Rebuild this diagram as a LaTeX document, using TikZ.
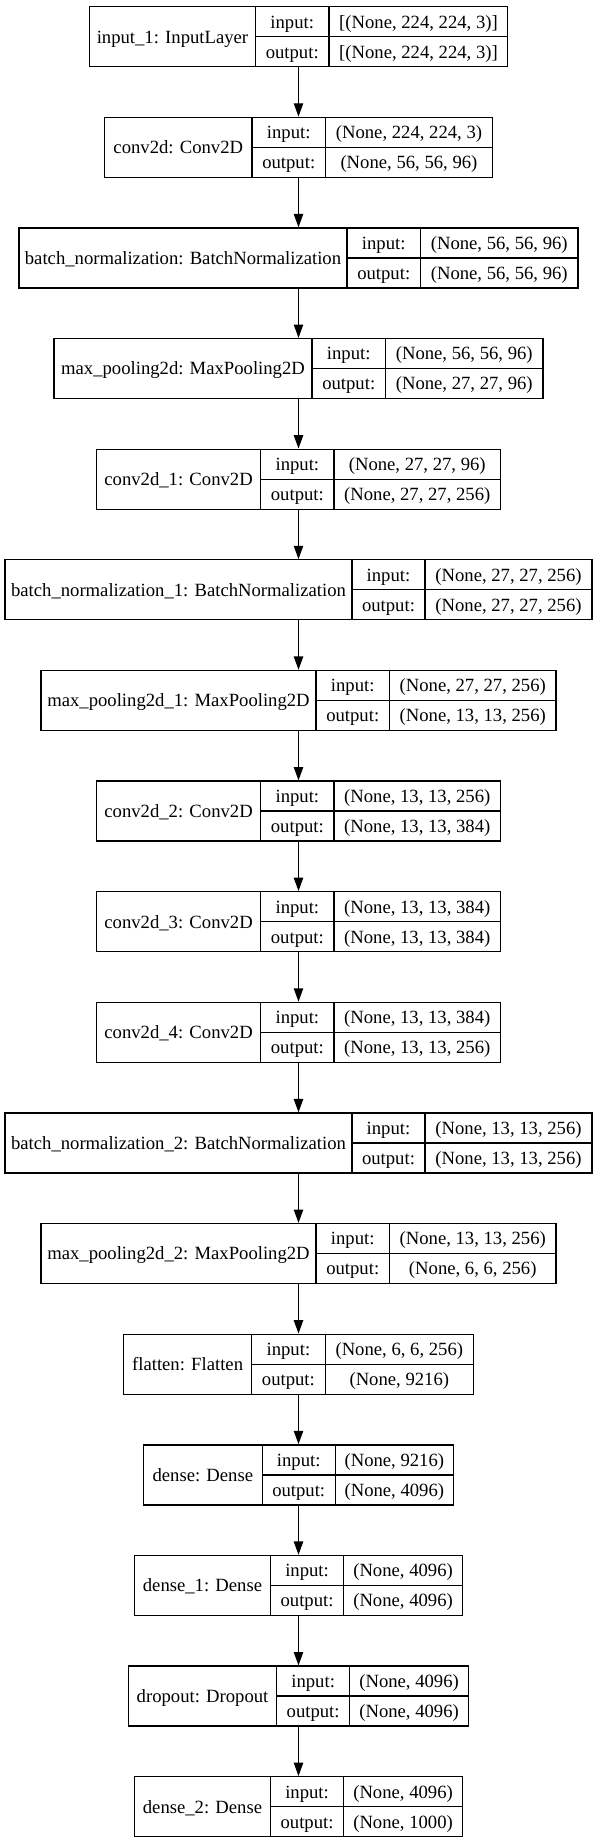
\documentclass[tikz,border=0pt]{standalone}
\usepackage{fontspec}
\setmainfont{Liberation Serif}
\usetikzlibrary{arrows.meta}

\tikzset{
  layer/.style={draw, rectangle, inner sep=0pt, line width=1pt, minimum height=45pt},
  cellline/.style={line width=1pt},
  txt/.style={inner sep=0pt, text height=11.5pt, text depth=2pt},
  flow/.style={-{Triangle[length=10pt, width=7pt]}, line width=1pt}
}

\begin{document}
\begin{tikzpicture}[x=0.75pt, y=-0.75pt, font=\fontsize{14pt}{16pt}\selectfont]
    \useasboundingbox (0,0) rectangle (597,1844);
    % one row per layer: index/name/left/divider 1/divider 2/right/input/output
    \foreach \n/\nm/\xl/\xa/\xb/\xr/\shin/\shout in {
        0/{input\_1: InputLayer}/89.4/255.5/329/508/{[(None, 224, 224, 3)]}/{[(None, 224, 224, 3)]},
        1/{conv2d: Conv2D}/104.6/252/325.5/492.4/{(None, 224, 224, 3)}/{(None, 56, 56, 96)},
        2/{batch\_normalization: BatchNormalization}/19/347/420.5/578/{(None, 56, 56, 96)}/{(None, 56, 56, 96)},
        3/{max\_pooling2d: MaxPooling2D}/54/312/385.5/543/{(None, 56, 56, 96)}/{(None, 27, 27, 96)},
        4/{conv2d\_1: Conv2D}/96.5/260.7/334/500.5/{(None, 27, 27, 96)}/{(None, 27, 27, 256)},
        5/{batch\_normalization\_1: BatchNormalization}/5/352/425/592/{(None, 27, 27, 256)}/{(None, 27, 27, 256)},
        6/{max\_pooling2d\_1: MaxPooling2D}/41/316/389.5/556/{(None, 27, 27, 256)}/{(None, 13, 13, 256)},
        7/{conv2d\_2: Conv2D}/96.5/260.7/334/500.5/{(None, 13, 13, 256)}/{(None, 13, 13, 384)},
        8/{conv2d\_3: Conv2D}/96.5/260.7/334/500.5/{(None, 13, 13, 384)}/{(None, 13, 13, 384)},
        9/{conv2d\_4: Conv2D}/96.5/260.7/334/500.5/{(None, 13, 13, 384)}/{(None, 13, 13, 256)},
        10/{batch\_normalization\_2: BatchNormalization}/5/352/425/592/{(None, 13, 13, 256)}/{(None, 13, 13, 256)},
        11/{max\_pooling2d\_2: MaxPooling2D}/41/316/389.5/556/{(None, 13, 13, 256)}/{(None, 6, 6, 256)},
        12/{flatten: Flatten}/123.7/251.5/325.3/473.3/{(None, 6, 6, 256)}/{(None, 9216)},
        13/{dense: Dense}/143.5/262.2/335.2/453.5/{(None, 9216)}/{(None, 4096)},
        14/{dense\_1: Dense}/134.5/270.5/343.6/462.5/{(None, 4096)}/{(None, 4096)},
        15/{dropout: Dropout}/128.5/276.6/349.7/468.5/{(None, 4096)}/{(None, 4096)},
        16/{dense\_2: Dense}/134.5/270.5/343.6/462.5/{(None, 4096)}/{(None, 1000)}} {
        \pgfmathsetmacro\yt{6.7+\n*110.625}
        \node[layer, minimum width={(\xr-\xl)*0.75pt}] (L\n) at (298.5, \yt+30) {};
        \draw[cellline] (\xa,\yt) -- (\xa,\yt+60) (\xb,\yt) -- (\xb,\yt+60) (\xa,\yt+30) -- (\xr,\yt+30);
        \node[txt] (N\n) at ({(\xl+\xa)/2}, \yt+30) {\nm};
        \node[txt] (I\n) at ({(\xa+\xb)/2}, \yt+15) {input:};
        \node[txt] (O\n) at ({(\xa+\xb)/2}, \yt+45) {output:};
        \node[txt] (SI\n) at ({(\xb+\xr)/2}, \yt+15) {\shin};
        \node[txt] (SO\n) at ({(\xb+\xr)/2}, \yt+45) {\shout};
    }
    \foreach \n [evaluate=\n as \m using int(\n+1)] in {0,...,15}
        \draw[flow] (L\n.south) -- (L\m.north);
\end{tikzpicture}
\end{document}
